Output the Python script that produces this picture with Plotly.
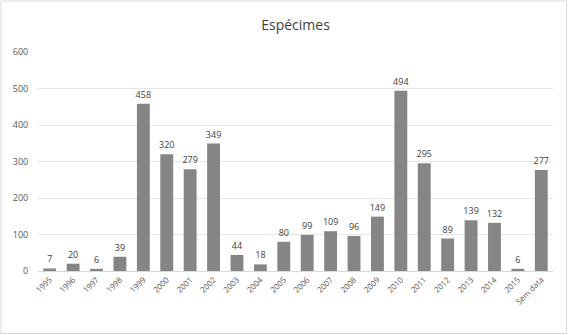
import plotly.graph_objects as go

categories = ["1995","1996","1997","1998","1999","2000","2001","2002","2003","2004","2005",
              "2006","2007","2008","2009","2010","2011","2012","2013","2014","2015","Sem data"]
values = [7,20,6,39,458,320,279,349,44,18,80,99,109,96,149,494,295,89,139,132,6,277]
y_ticks = [0,100,200,300,400,500,600]

W, H = 568, 335
ml, mr, mt, mb = 38, 15, 52, 64

fig = go.Figure(go.Bar(
    x=categories, y=values,
    marker=dict(color="#858585", line=dict(width=0)),
    text=[str(v) for v in values], textposition="outside",
    textfont=dict(size=9, color="#404040"),
    cliponaxis=False,
    width=0.55,
))

fig.update_layout(
    width=W, height=H,
    margin=dict(l=ml, r=mr, t=mt, b=mb, autoexpand=False),
    uniformtext=dict(minsize=9, mode="show"),
    paper_bgcolor="white", plot_bgcolor="white",
    font=dict(family="Open Sans, Liberation Sans, sans-serif", color="#595959"),
    title=dict(text="Espécimes", x=0.5, xanchor="center", xref="paper",
               y=1 - 25/H, yanchor="middle", yref="container",
               font=dict(size=14, color="#404040")),
    showlegend=False,
    xaxis=dict(type="category", tickangle=-45, tickfont=dict(size=8, color="#595959"),
               showline=True, linecolor="#d9d9d9", linewidth=1, ticks="", showgrid=False,
               automargin=False),
    yaxis=dict(range=[0, 600], tickvals=y_ticks, tickfont=dict(size=9, color="#595959"),
               showgrid=True, gridcolor="#e6e6e6", gridwidth=1, zeroline=False,
               showline=False, ticks="outside", ticklen=7, tickcolor="rgba(0,0,0,0)",
               automargin=False),
    shapes=[dict(type="rect", xref="paper", yref="paper",
                 x0=-(ml - 1) / (W - ml - mr), x1=1 + (mr - 1.5) / (W - ml - mr),
                 y0=-(mb - 1.5) / (H - mt - mb), y1=1 + (mt - 1) / (H - mt - mb),
                 line=dict(color="#d9d9d9", width=1), fillcolor="rgba(0,0,0,0)", layer="below")],
)

fig.write_html("out.html", config={"displayModeBar": False},
               post_script="document.body.style.margin='0';")
